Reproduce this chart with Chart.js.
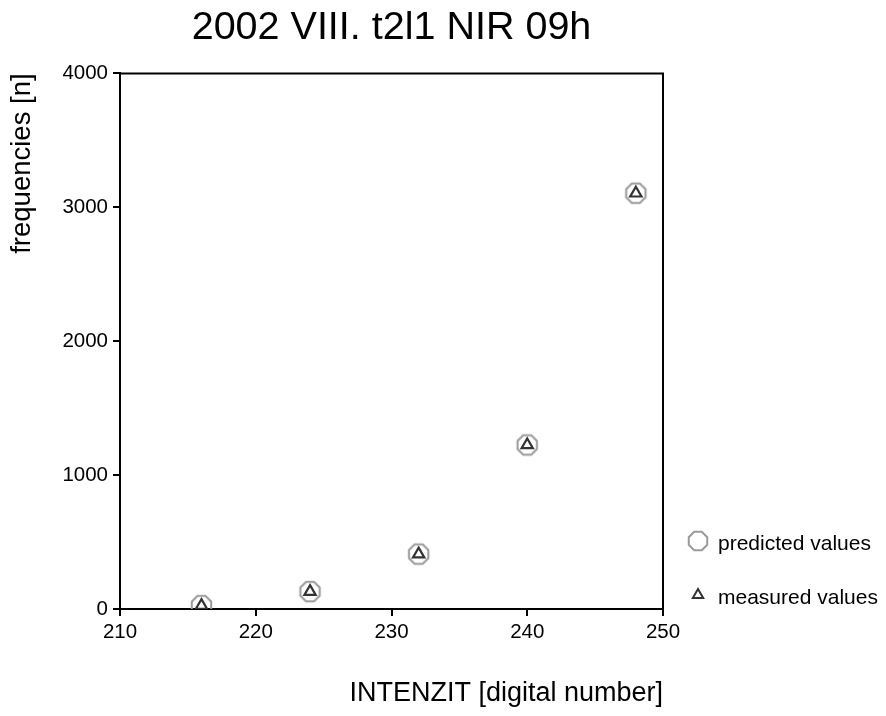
<!DOCTYPE html>
<html>
<head>
<meta charset="utf-8">
<script src="https://cdn.jsdelivr.net/npm/chart.js@4/dist/chart.umd.min.js"></script>
<style>
  html, body { margin: 0; padding: 0; background: #fff; }
  #wrap { width: 886px; height: 716px; }
</style>
</head>
<body>
<div id="wrap"><canvas id="c" width="886" height="716"></canvas></div>
<script>
const titleText = '2002 VIII. t2l1 NIR 09h';
const xTitle = 'INTENZIT [digital number]';
const yTitle = 'frequencies [n]';
const intensities = [216, 224, 232, 240, 248];
const predictedValues = [25, 130, 410, 1225, 3105];
const measuredValues = [25, 130, 410, 1225, 3105];
const legendLabels = ['predicted values', 'measured values'];
const xTickMin = 210, xTickMax = 250, xTickStep = 10;
const yTickMin = 0, yTickMax = 4000, yTickStep = 1000;

const FONT = '"Liberation Sans", Arial, Helvetica, sans-serif';
const GREY = '#9a9a9a';
const DARK = '#333333';

function octagonCanvas(r, color, lw) {
  const size = Math.ceil(2 * r + lw + 2);
  const cv = document.createElement('canvas');
  cv.width = size; cv.height = size;
  const g = cv.getContext('2d');
  drawOctagon(g, size / 2, size / 2, r, color, lw);
  return cv;
}
function drawOctagon(g, cx, cy, r, color, lw) {
  g.save();
  g.beginPath();
  for (let i = 0; i < 8; i++) {
    const a = Math.PI / 8 + i * Math.PI / 4;
    const px = cx + r * Math.cos(a), py = cy + r * Math.sin(a);
    if (i === 0) g.moveTo(px, py); else g.lineTo(px, py);
  }
  g.closePath();
  g.strokeStyle = color;
  g.lineWidth = lw;
  g.stroke();
  g.restore();
}
function drawTriangle(g, cx, cy, r, color, lw) {
  g.save();
  g.beginPath();
  for (let i = 0; i < 3; i++) {
    const a = -Math.PI / 2 + i * 2 * Math.PI / 3;
    const px = cx + r * Math.cos(a), py = cy + r * Math.sin(a);
    if (i === 0) g.moveTo(px, py); else g.lineTo(px, py);
  }
  g.closePath();
  g.strokeStyle = color;
  g.lineWidth = lw;
  g.stroke();
  g.restore();
}

const octImg = octagonCanvas(10.5, GREY, 2);

const frame = {
  id: 'frame',
  afterDatasetsDraw(chart) {
    const {ctx, chartArea: a} = chart;
    ctx.save();
    ctx.strokeStyle = '#000';
    ctx.lineWidth = 2;
    ctx.beginPath();
    ctx.moveTo(a.left, a.top);
    ctx.lineTo(a.right, a.top);
    ctx.lineTo(a.right, a.bottom);
    ctx.stroke();
    ctx.restore();
  },
  afterDraw(chart) {
    const ctx = chart.ctx;
    const a = chart.chartArea;
    const lx = a.right + 35;
    ctx.save();
    drawOctagon(ctx, lx, 541, 10, GREY, 2);
    drawTriangle(ctx, lx, 595, 6, DARK, 2);
    ctx.fillStyle = '#000';
    ctx.font = '21px ' + FONT;
    ctx.textBaseline = 'middle';
    ctx.textAlign = 'left';
    ctx.fillText(legendLabels[0], lx + 20, 544);
    ctx.fillText(legendLabels[1], lx + 20, 598);
    ctx.restore();
  }
};

new Chart(document.getElementById('c'), {
  type: 'scatter',
  data: {
    datasets: [
      {
        label: legendLabels[0],
        data: intensities.map((x, i) => ({x, y: predictedValues[i]})),
        pointStyle: octImg,
        pointRadius: 10,
        pointHoverRadius: 10,
        order: 2
      },
      {
        label: legendLabels[1],
        data: intensities.map((x, i) => ({x, y: measuredValues[i]})),
        pointStyle: 'triangle',
        pointRadius: 6.5,
        pointHoverRadius: 6.5,
        borderColor: DARK,
        backgroundColor: 'rgba(255,255,255,0)',
        borderWidth: 2.2,
        order: 1
      }
    ]
  },
  options: {
    responsive: false,
    animation: false,
    devicePixelRatio: 1,
    layout: { padding: { left: 0, right: 223, top: 0, bottom: 0 } },
    plugins: {
      legend: { display: false },
      tooltip: { enabled: false },
      title: {
        display: true,
        text: titleText,
        fullSize: false,
        color: '#000',
        font: { family: FONT, size: 39.5, weight: 'normal' },
        padding: { top: 4, bottom: 22 }
      }
    },
    scales: {
      x: {
        type: 'linear',
        min: xTickMin, max: xTickMax,
        afterFit(s) { s.height = 107; },
        ticks: { stepSize: xTickStep, color: '#000', padding: 4, font: { family: FONT, size: 20.5 }, callback: v => String(v) },
        grid: { display: true, drawOnChartArea: false, drawTicks: true, tickLength: 7, color: '#000', lineWidth: 2 },
        border: { display: true, color: '#000', width: 2 },
        title: { display: true, text: xTitle, align: 'end', color: '#000', font: { family: FONT, size: 27 }, padding: { top: 0, bottom: 6 } }
      },
      y: {
        type: 'linear',
        min: yTickMin, max: yTickMax,
        afterFit(s) { s.width = 120; },
        ticks: { stepSize: yTickStep, color: '#000', padding: 5, font: { family: FONT, size: 20.5 }, callback: v => String(v) },
        grid: { display: true, drawOnChartArea: false, drawTicks: true, tickLength: 7, color: '#000', lineWidth: 2 },
        border: { display: true, color: '#000', width: 2 },
        title: { display: true, text: yTitle, align: 'end', color: '#000', font: { family: FONT, size: 27.5 }, padding: { top: 6, bottom: 0 } }
      }
    }
  },
  plugins: [frame]
});
</script>
</body>
</html>
